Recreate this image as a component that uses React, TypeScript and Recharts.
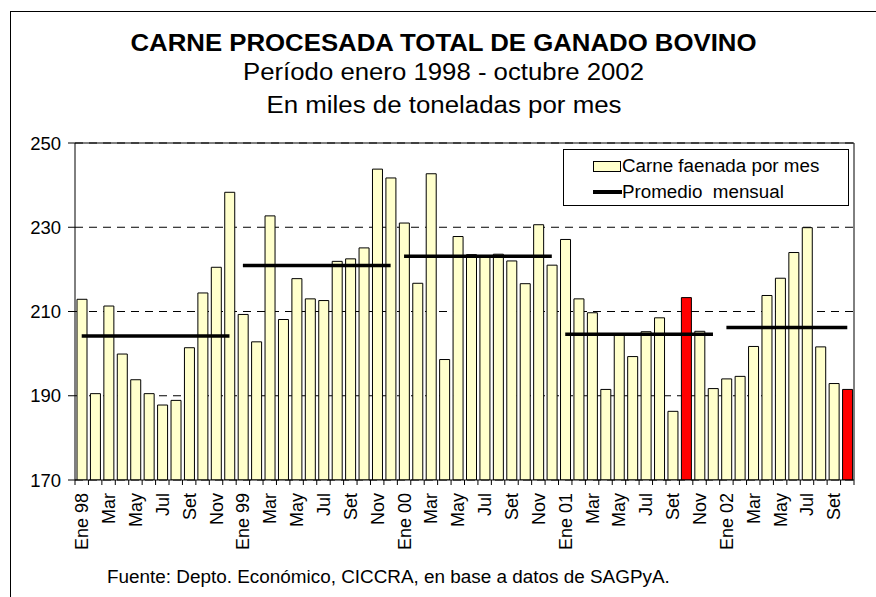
import { ComposedChart, Bar, Line, XAxis, YAxis, CartesianGrid, ReferenceLine, Cell } from 'recharts'

// monthly slaughter, thousand tonnes
const months = ['Ene', 'Feb', 'Mar', 'Abr', 'May', 'Jun', 'Jul', 'Ago', 'Set', 'Oct', 'Nov', 'Dic']
const years = ['98', '99', '00', '01', '02']

const v1998 = [212.9, 190.5, 211.3, 199.9, 193.8, 190.5, 187.8, 188.9, 201.4, 214.4, 220.5, 238.3]
const v1999 = [209.3, 202.8, 232.7, 208.1, 217.8, 213.0, 212.6, 221.9, 222.5, 225.1, 243.8, 241.7]
const v2000 = [231.0, 216.7, 242.7, 198.6, 227.8, 223.5, 223.3, 223.6, 222.0, 216.6, 230.6, 221.0]
const v2001 = [227.1, 213.0, 209.7, 191.5, 204.5, 199.3, 205.2, 208.5, 186.3, 213.3, 205.3, 191.7]
const v2002 = [194.0, 194.6, 201.7, 213.8, 217.9, 224.0, 229.9, 201.6, 192.9, 191.5]

const yearlyAvg = [204.2, 220.9, 223.1, 204.6, 206.2]
const highlighted = ['Oct 01', 'Oct 02']
const yTicks = [170, 190, 210, 230, 250]

const PLOT_LEFT = 75
const PLOT_RIGHT = 854
const PLOT_TOP = 143
const PLOT_BOTTOM = 480

const data = [v1998, v1999, v2000, v2001, v2002].flatMap((vals, yi) =>
  vals.map((value, mi) => {
    const row: Record<string, any> = { key: `${months[mi]} ${years[yi]}`, month: mi, year: years[yi], value }
    row[`avg${yi}`] = yearlyAvg[yi]
    return row
  })
)

const BAND = (PLOT_RIGHT - PLOT_LEFT) / data.length
const FONT = '"Liberation Sans", Arial, sans-serif'

function MonthTick(props: any) {
  const { x, y, payload } = props
  const row = data[payload.index]
  const half = payload.offset ?? BAND / 2
  const show = row && row.month % 2 === 0
  const label = row ? (row.month === 0 ? `Ene ${row.year}` : months[row.month]) : ''
  return (
    <g>
      {payload.index === 0 && <line x1={x - half} x2={x - half} y1={y} y2={y + 5} stroke="#000" />}
      <line x1={x + half} x2={x + half} y1={y} y2={y + 5} stroke="#000" />
      {show && (
        <text
          transform={`translate(${x},${y + 13}) rotate(-90)`}
          textAnchor="end"
          dy="0.36em"
          fontSize={18}
          fill="#000"
        >
          {label}
        </text>
      )}
    </g>
  )
}

export default function App() {
  return (
    <div
      style={{
        position: 'fixed',
        left: 0,
        top: 0,
        width: 876,
        height: 597,
        overflow: 'hidden',
        background: '#fff',
        fontFamily: FONT,
      }}
    >
      {/* outer frame, cropped on the right and bottom */}
      <div
        style={{
          position: 'absolute',
          left: 10,
          top: 11,
          width: 900,
          height: 700,
          borderLeft: '1.5px solid #000',
          borderTop: '1.5px solid #000',
        }}
      />

      <ComposedChart
        width={876}
        height={597}
        data={data}
        margin={{ top: PLOT_TOP, left: PLOT_LEFT - 65, right: 876 - PLOT_RIGHT - 1, bottom: 597 - PLOT_BOTTOM - 80 }}
        style={{ position: 'absolute', left: 0, top: 0 }}
      >
        <CartesianGrid vertical={false} stroke="#000" strokeDasharray="8 6" />
        <XAxis
          dataKey="key"
          interval={0}
          height={80}
          tickSize={0}
          tickMargin={0}
          tickLine={false}
          axisLine={{ stroke: '#000' }}
          tick={<MonthTick />}
        />
        <YAxis
          domain={[170, 250]}
          ticks={yTicks}
          allowDataOverflow
          width={65}
          tickSize={7}
          tickMargin={7}
          tick={{ fill: '#000', fontSize: 18.5 }}
          tickLine={{ stroke: '#000' }}
          axisLine={{ stroke: '#000' }}
        />
        <YAxis
          yAxisId="r"
          orientation="right"
          domain={[170, 250]}
          width={1}
          tick={false}
          tickLine={false}
          axisLine={{ stroke: '#000' }}
        />
        <ReferenceLine y={250} stroke="#000" />
        <Bar dataKey="value" fill="#FFFFCC" stroke="#000" strokeWidth={1} barSize={10} isAnimationActive={false}>
          {data.map((d) => (
            <Cell key={d.key} fill={highlighted.includes(d.key) ? '#FF0000' : '#FFFFCC'} />
          ))}
        </Bar>
        {yearlyAvg.map((_, i) => (
          <Line
            key={i}
            dataKey={`avg${i}`}
            stroke="#000"
            strokeWidth={3.5}
            dot={false}
            activeDot={false}
            isAnimationActive={false}
          />
        ))}
      </ComposedChart>

      <svg width={876} height={130} style={{ position: 'absolute', left: 0, top: 0 }}>
        <text x={443.5} y={50.5} textAnchor="middle" fontSize={23.5} fontWeight="bold" textLength={626} lengthAdjust="spacingAndGlyphs">
          CARNE PROCESADA TOTAL DE GANADO BOVINO
        </text>
        <text x={443.5} y={80} textAnchor="middle" fontSize={23.5} textLength={401} lengthAdjust="spacingAndGlyphs">
          Período enero 1998 - octubre 2002
        </text>
        <text x={444} y={113} textAnchor="middle" fontSize={23.5} textLength={355} lengthAdjust="spacingAndGlyphs">
          En miles de toneladas por mes
        </text>
      </svg>

      <div
        style={{
          position: 'absolute',
          left: 563,
          top: 149,
          width: 284,
          height: 55,
          border: '1px solid #000',
          background: '#fff',
          fontSize: 18.8,
          color: '#000',
        }}
      >
        <div style={{ position: 'absolute', left: 29, top: 5, display: 'flex', alignItems: 'center', whiteSpace: 'nowrap' }}>
          <span style={{ display: 'inline-block', width: 28, height: 11, background: '#FFFFCC', border: '1px solid #000', boxSizing: 'border-box', marginRight: 1 }} />
          Carne faenada por mes
        </div>
        <div style={{ position: 'absolute', left: 29, top: 31, display: 'flex', alignItems: 'center', whiteSpace: 'nowrap' }}>
          <span style={{ display: 'inline-block', width: 29, height: 3.5, background: '#000' }} />
          Promedio&nbsp; mensual
        </div>
      </div>

      <div style={{ position: 'absolute', left: 107, top: 566, fontSize: 18.9, color: '#000', whiteSpace: 'nowrap' }}>
        Fuente: Depto. Económico, CICCRA, en base a datos de SAGPyA.
      </div>
    </div>
  )
}
